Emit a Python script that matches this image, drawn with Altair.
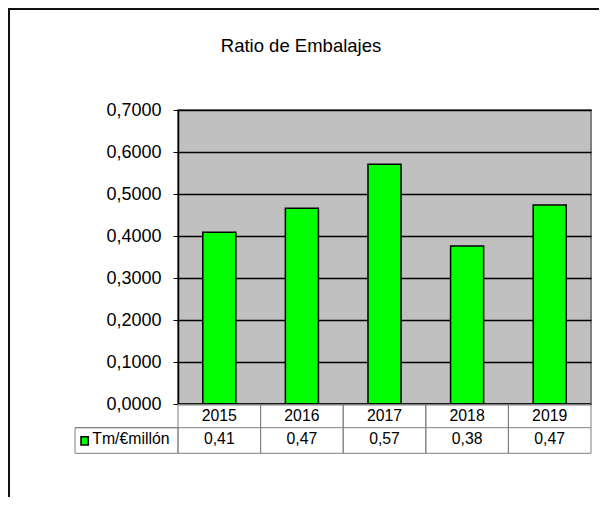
import altair as alt
import pandas as pd

years = ["2015", "2016", "2017", "2018", "2019"]
values = [0.409, 0.466, 0.571, 0.376, 0.474]
value_labels = ["0,41", "0,47", "0,57", "0,38", "0,47"]
y_ticks = [0.0, 0.1, 0.2, 0.3, 0.4, 0.5, 0.6, 0.7]
series_name = "Tm/€millón"
title_text = "Ratio de Embalajes"

df = pd.DataFrame({"year": years, "value": values, "label": value_labels})
one = pd.DataFrame({"k": [0]})

FONT = "Liberation Sans, Arial, sans-serif"
W, H = 413, 294
ROW1 = 317.7
ROW2 = 343.3

band_bars = alt.Scale(domain=years, paddingInner=0.6, paddingOuter=0.3)
band_cells = alt.Scale(domain=years, paddingInner=0, paddingOuter=0)
yscale = alt.Scale(domain=[0, 0.7], nice=False, zero=True)

base = alt.Chart(df)

bars = base.mark_bar(color="#00FF00", stroke="#000000", strokeWidth=1.5).encode(
    x=alt.X("year:N", scale=band_bars, axis=None, sort=years),
    y=alt.Y(
        "value:Q",
        scale=yscale,
        axis=alt.Axis(
            values=y_ticks,
            labelExpr="replace(format(datum.value, '.4f'), '.', ',')",
            title=None,
            grid=True,
            gridColor="#000000",
            gridWidth=1.5,
            domainColor="#000000",
            domainWidth=1.5,
            tickColor="#000000",
            tickSize=5,
            tickWidth=1,
            labelFont=FONT,
            labelFontSize=18,
            labelColor="#000000",
            labelPadding=12,
        ),
    ),
)

zero_line = alt.Chart(one).mark_rule(color="#000000", strokeWidth=1.5).encode(
    x=alt.value(0), x2=alt.value(W), y=alt.datum(0, scale=yscale)
)

cells = base.mark_rect(fill="#FFFFFF", fillOpacity=0, stroke="#808080", strokeWidth=1).encode(
    x=alt.X("year:N", scale=band_cells, axis=None, sort=years),
    y=alt.value(H + 0.5),
    y2=alt.value(ROW2),
)

mid_rule = alt.Chart(one).mark_rule(color="#808080", strokeWidth=1).encode(
    x=alt.value(-103), x2=alt.value(W), y=alt.value(ROW1)
)

legend_cell = alt.Chart(one).mark_rect(fill="#FFFFFF", fillOpacity=0, stroke="#808080", strokeWidth=1).encode(
    x=alt.value(-103), x2=alt.value(0), y=alt.value(ROW1), y2=alt.value(ROW2)
)

legend_swatch = alt.Chart(one).mark_rect(fill="#00FF00", stroke="#000000", strokeWidth=1.5).encode(
    x=alt.value(-97), x2=alt.value(-89.7), y=alt.value(326.7), y2=alt.value(335)
)

legend_text = alt.Chart(pd.DataFrame({"t": [series_name]})).mark_text(
    font=FONT, fontSize=15.8, align="left", baseline="alphabetic", color="#000000"
).encode(x=alt.value(-85.7), y=alt.value(334.3), text="t:N")

year_text = base.mark_text(
    font=FONT, fontSize=15.8, align="center", baseline="alphabetic", color="#000000"
).encode(
    x=alt.X("year:N", scale=band_cells, axis=None, sort=years, bandPosition=0.5),
    y=alt.value(310.7),
    text="year:N",
)

val_text = base.mark_text(
    font=FONT, fontSize=15.8, align="center", baseline="alphabetic", color="#000000"
).encode(
    x=alt.X("year:N", scale=band_cells, axis=None, sort=years, bandPosition=0.5),
    y=alt.value(334.3),
    text="label:N",
)

title = alt.Chart(pd.DataFrame({"t": [title_text]})).mark_text(
    font=FONT, fontSize=18.5, align="center", baseline="alphabetic", color="#000000"
).encode(x=alt.value(123), y=alt.value(-58.3), text="t:N")

frame = alt.Chart(one).mark_rect(fill="#FFFFFF", fillOpacity=0, stroke="#111111", strokeWidth=2).encode(
    x=alt.value(-169), x2=alt.value(460), y=alt.value(-101), y2=alt.value(430)
)

chart = (
    alt.layer(
        frame, bars, zero_line, cells, mid_rule, legend_cell, legend_swatch,
        legend_text, year_text, val_text, title,
    )
    .resolve_scale(x="independent")
    .properties(
        width=W,
        height=H,
        autosize=alt.AutoSizeParams(type="none"),
        padding={"left": 170, "top": 102, "right": 8, "bottom": 93},
        background="#FFFFFF",
    )
    .configure_view(fill="#C0C0C0", stroke="#808080", strokeWidth=2)
)

chart.save("out.html", embed_options={"renderer": "svg", "actions": False})
